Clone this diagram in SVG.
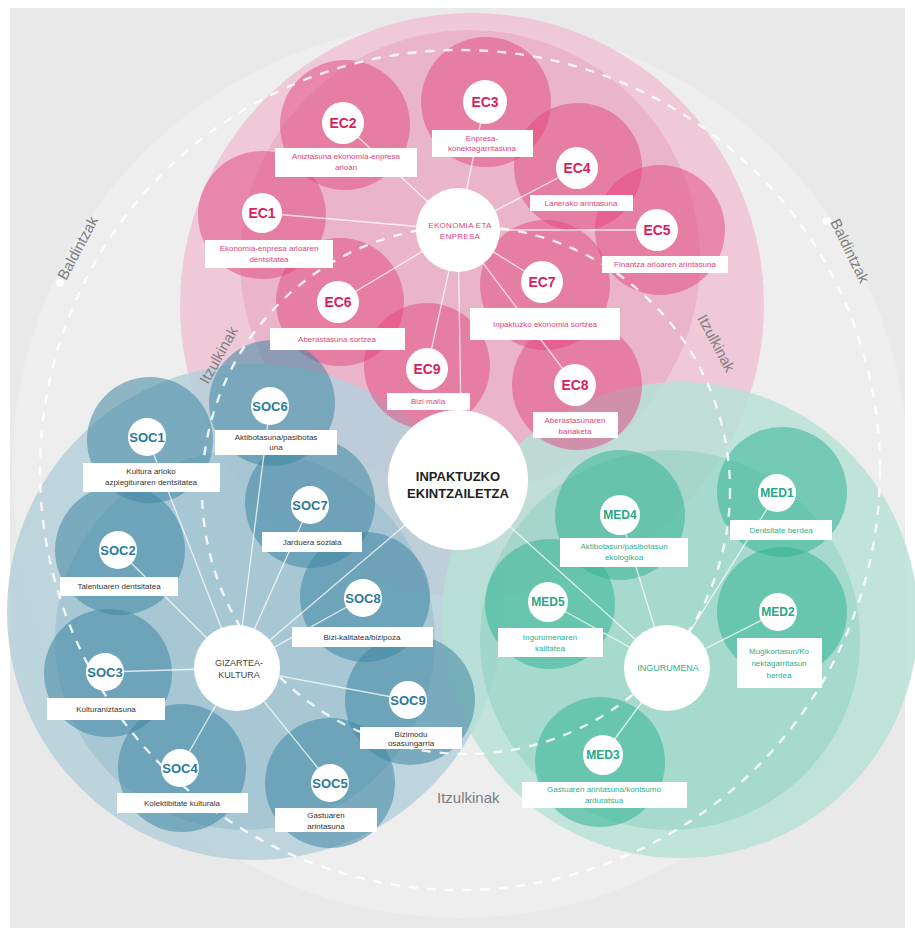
<svg xmlns="http://www.w3.org/2000/svg" width="915" height="934" viewBox="0 0 915 934">
<style>
text{font-family:"Liberation Sans",Arial,sans-serif}
.ecc{fill:#e2467e;fill-opacity:.5}
.socc{fill:#3f86a2;fill-opacity:.55}
.medc{fill:#34b496;fill-opacity:.55}
.dot{fill:#fff}
.box{fill:#fff}
.conn line{stroke:#fff;stroke-opacity:.75;stroke-width:1.3}
.dash{fill:none;stroke:#fff;stroke-width:2.4;stroke-dasharray:9 9;stroke-opacity:.85}
.ec{fill:#d91f60;font-weight:bold;font-size:14px;text-anchor:middle}
.soc{fill:#2b7b98;font-weight:bold;font-size:13px;text-anchor:middle}
.med{fill:#27a886;font-weight:bold;font-size:12px;text-anchor:middle}
.le{fill:#e0457b;font-size:8px;text-anchor:middle}
.ls{fill:#333;font-size:8px;text-anchor:middle}
.lm{fill:#2bb08d;font-size:8px;text-anchor:middle}
.side{fill:#7d7d7d;font-size:15px}
</style>
<rect x="0" y="0" width="915" height="934" fill="#fff"/>
<rect x="10" y="8" width="895" height="920" fill="#e9e9e9"/>
<g id="background">
<circle cx="460" cy="470" r="448" fill="#fff" fill-opacity=".25"/>
<circle cx="472" cy="305" r="292" fill="#efbcd0" fill-opacity=".75"/>
<circle cx="470" cy="260" r="230" fill="#e68fb0" fill-opacity=".35"/>
<circle cx="255" cy="612" r="248" fill="#b5d0da" fill-opacity=".85"/>
<circle cx="680" cy="620" r="238" fill="#b7e0d6" fill-opacity=".85"/>
<circle cx="245" cy="640" r="190" fill="#7fb0c3" fill-opacity=".35"/>
<circle cx="670" cy="640" r="190" fill="#76c9b3" fill-opacity=".35"/>
</g>
<g id="colored-circles">
<circle class="ecc" cx="262" cy="215" r="64"/>
<circle class="ecc" cx="345" cy="125" r="65"/>
<circle class="ecc" cx="486" cy="102" r="65"/>
<circle class="ecc" cx="578" cy="167" r="64"/>
<circle class="ecc" cx="660" cy="230" r="65"/>
<circle class="ecc" cx="340" cy="302" r="64"/>
<circle class="ecc" cx="545" cy="285" r="65"/>
<circle class="ecc" cx="577" cy="385" r="65"/>
<circle class="ecc" cx="427" cy="366" r="63"/>
<circle class="socc" cx="150" cy="440" r="63"/>
<circle class="socc" cx="120" cy="550" r="65"/>
<circle class="socc" cx="108" cy="673" r="64"/>
<circle class="socc" cx="182" cy="768" r="64"/>
<circle class="socc" cx="330" cy="783" r="65"/>
<circle class="socc" cx="272" cy="403" r="63"/>
<circle class="socc" cx="310" cy="503" r="65"/>
<circle class="socc" cx="365" cy="597" r="65"/>
<circle class="socc" cx="410" cy="700" r="65"/>
<circle class="medc" cx="782" cy="492" r="65"/>
<circle class="medc" cx="782" cy="612" r="65"/>
<circle class="medc" cx="600" cy="762" r="65"/>
<circle class="medc" cx="620" cy="515" r="65"/>
<circle class="medc" cx="550" cy="604" r="65"/>
</g>
<g id="dashed">
<circle class="dash" cx="460" cy="470" r="420"/>
<circle class="dash" cx="466" cy="490" r="264"/>
<circle cx="60" cy="283" r="4" fill="#fff"/>
<circle cx="827" cy="221" r="4" fill="#fff"/>
</g>
<g id="labels-side">
<text class="side" transform="translate(66,281) rotate(-62)">Baldintzak</text>
<text class="side" transform="translate(830,222) rotate(64)">Baldintzak</text>
<text class="side" transform="translate(208,385) rotate(-61)" font-size="16">Itzulkinak</text>
<text class="side" transform="translate(697,318) rotate(62)" font-size="16">Itzulkinak</text>
<text class="side" x="437" y="803" font-size="16">Itzulkinak</text>
</g>
<g class="conn" id="connectors">
<line x1="458" y1="230" x2="262" y2="213"/>
<line x1="458" y1="230" x2="343" y2="123"/>
<line x1="458" y1="230" x2="485" y2="102"/>
<line x1="458" y1="230" x2="577" y2="168"/>
<line x1="458" y1="230" x2="657" y2="230"/>
<line x1="458" y1="230" x2="338" y2="302"/>
<line x1="458" y1="230" x2="542" y2="282"/>
<line x1="458" y1="230" x2="575" y2="385"/>
<line x1="458" y1="230" x2="427" y2="369"/>
<line x1="458" y1="230" x2="462" y2="480"/>
<line x1="237" y1="668" x2="147" y2="437"/>
<line x1="237" y1="668" x2="118" y2="550"/>
<line x1="237" y1="668" x2="105" y2="672"/>
<line x1="237" y1="668" x2="180" y2="768"/>
<line x1="237" y1="668" x2="330" y2="783"/>
<line x1="237" y1="668" x2="270" y2="406"/>
<line x1="237" y1="668" x2="310" y2="505"/>
<line x1="237" y1="668" x2="363" y2="598"/>
<line x1="237" y1="668" x2="408" y2="700"/>
<line x1="237" y1="668" x2="458" y2="480"/>
<line x1="667" y1="668" x2="777" y2="493"/>
<line x1="667" y1="668" x2="778" y2="612"/>
<line x1="667" y1="668" x2="603" y2="755"/>
<line x1="667" y1="668" x2="620" y2="515"/>
<line x1="667" y1="668" x2="548" y2="602"/>
<line x1="667" y1="668" x2="458" y2="480"/>
</g>
<g id="center">
<circle class="dot" cx="458" cy="480" r="70"/>
<text x="458" y="481" font-size="13" font-weight="bold" fill="#222" text-anchor="middle">INPAKTUZKO</text>
<text x="458" y="498" font-size="13" font-weight="bold" fill="#222" text-anchor="middle">EKINTZAILETZA</text>
</g>
<g id="hub-ekonomia">
<circle class="dot" cx="458" cy="230" r="42"/>
<text x="460" y="228" font-size="8" fill="#e0457b" text-anchor="middle" letter-spacing=".3">EKONOMIA  ETA</text>
<text x="460" y="239" font-size="8" fill="#e0457b" text-anchor="middle" letter-spacing=".3">ENPRESA</text>
</g>
<g id="hub-gizartea">
<circle class="dot" cx="237" cy="668" r="43"/>
<text x="239" y="666" font-size="9" fill="#444" text-anchor="middle">GIZARTEA-</text>
<text x="239" y="678" font-size="9" fill="#444" text-anchor="middle">KULTURA</text>
</g>
<g id="hub-ingurumena">
<circle class="dot" cx="667" cy="668" r="43"/>
<text x="668" y="671" font-size="9" fill="#2bb08d" text-anchor="middle">INGURUMENA</text>
</g>
<g id="EC1"><circle class="dot" cx="262" cy="213" r="20"/><text class="ec" x="262" y="218">EC1</text>
<rect class="box" x="205" y="240" width="128" height="28"/><text class="le" x="269" y="251">Ekonomia-enpresa  arloaren</text><text class="le" x="269" y="262">dentsitatea</text></g>
<g id="EC2"><circle class="dot" cx="343" cy="123" r="21"/><text class="ec" x="343" y="128">EC2</text>
<rect class="box" x="275" y="148" width="142" height="29"/><text class="le" x="346" y="159">Aniztasuna  ekonomia-enpresa</text><text class="le" x="346" y="170">arloan</text></g>
<g id="EC3"><circle class="dot" cx="485" cy="102" r="22"/><text class="ec" x="485" y="107">EC3</text>
<rect class="box" x="432" y="130" width="101" height="27"/><text class="le" x="482" y="141">Enpresa-</text><text class="le" x="482" y="151">konektagarritasuna</text></g>
<g id="EC4"><circle class="dot" cx="577" cy="168" r="21"/><text class="ec" x="577" y="173">EC4</text>
<rect class="box" x="530" y="195" width="103" height="16"/><text class="le" x="581" y="206">Lanerako  arintasuna</text></g>
<g id="EC5"><circle class="dot" cx="657" cy="230" r="21"/><text class="ec" x="657" y="235">EC5</text>
<rect class="box" x="602" y="256" width="126" height="17"/><text class="le" x="665" y="267">Finantza  arloaren  arintasuna</text></g>
<g id="EC6"><circle class="dot" cx="338" cy="302" r="21"/><text class="ec" x="338" y="307">EC6</text>
<rect class="box" x="270" y="328" width="135" height="22"/><text class="le" x="337" y="342">Aberastasuna   sortzea</text></g>
<g id="EC7"><circle class="dot" cx="542" cy="282" r="21"/><text class="ec" x="542" y="287">EC7</text>
<rect class="box" x="470" y="308" width="150" height="32"/><text class="le" x="545" y="327">Inpaktuzko  ekonomia   sortzea</text></g>
<g id="EC8"><circle class="dot" cx="575" cy="385" r="21"/><text class="ec" x="575" y="390">EC8</text>
<rect class="box" x="533" y="412" width="85" height="26"/><text class="le" x="575" y="423">Aberastasunaren</text><text class="le" x="575" y="434">banaketa</text></g>
<g id="EC9"><circle class="dot" cx="427" cy="369" r="21"/><text class="ec" x="427" y="374">EC9</text>
<rect class="box" x="387" y="393" width="83" height="17"/><text class="le" x="428" y="404">Bizi maila</text></g>
<g id="SOC1"><circle class="dot" cx="147" cy="437" r="19"/><text class="soc" x="147" y="442">SOC1</text>
<rect class="box" x="83" y="463" width="137" height="29"/><text class="ls" x="151" y="474">Kultura  arloko</text><text class="ls" x="151" y="485">azpiegituraren   dentsitatea</text></g>
<g id="SOC2"><circle class="dot" cx="118" cy="550" r="19"/><text class="soc" x="118" y="555">SOC2</text>
<rect class="box" x="60" y="577" width="118" height="19"/><text class="ls" x="119" y="589">Talentuaren   dentsitatea</text></g>
<g id="SOC3"><circle class="dot" cx="105" cy="672" r="19"/><text class="soc" x="105" y="677">SOC3</text>
<rect class="box" x="47" y="698" width="118" height="22"/><text class="ls" x="106" y="712">Kulturaniztasuna</text></g>
<g id="SOC4"><circle class="dot" cx="180" cy="768" r="19"/><text class="soc" x="180" y="773">SOC4</text>
<rect class="box" x="117" y="793" width="131" height="20"/><text class="ls" x="182" y="806">Kolektibitate  kulturala</text></g>
<g id="SOC5"><circle class="dot" cx="330" cy="783" r="19"/><text class="soc" x="330" y="788">SOC5</text>
<rect class="box" x="275" y="808" width="102" height="24"/><text class="ls" x="326" y="818">Gastuaren</text><text class="ls" x="326" y="829">arintasuna</text></g>
<g id="SOC6"><circle class="dot" cx="270" cy="406" r="19"/><text class="soc" x="270" y="411">SOC6</text>
<rect class="box" x="215" y="430" width="122" height="25"/><text class="ls" x="276" y="440">Aktibotasuna/pasibotas</text><text class="ls" x="276" y="450">una</text></g>
<g id="SOC7"><circle class="dot" cx="310" cy="505" r="19"/><text class="soc" x="310" y="510">SOC7</text>
<rect class="box" x="262" y="532" width="100" height="20"/><text class="ls" x="312" y="545">Jarduera   soziala</text></g>
<g id="SOC8"><circle class="dot" cx="363" cy="598" r="19"/><text class="soc" x="363" y="603">SOC8</text>
<rect class="box" x="292" y="627" width="141" height="20"/><text class="ls" x="362" y="640">Bizi-kalitatea/bizipoza</text></g>
<g id="SOC9"><circle class="dot" cx="408" cy="700" r="19"/><text class="soc" x="408" y="705">SOC9</text>
<rect class="box" x="360" y="727" width="102" height="22"/><text class="ls" x="411" y="737">Bizimodu</text><text class="ls" x="411" y="746">osasungarria</text></g>
<g id="MED1"><circle class="dot" cx="777" cy="493" r="19"/><text class="med" x="777" y="497">MED1</text>
<rect class="box" x="730" y="520" width="102" height="20"/><text class="lm" x="781" y="533">Dentsitate   berdea</text></g>
<g id="MED2"><circle class="dot" cx="778" cy="612" r="19"/><text class="med" x="778" y="616">MED2</text>
<rect class="box" x="737" y="638" width="85" height="50"/><text class="lm" x="779" y="654">Mugikortasun/Ko</text><text class="lm" x="779" y="666">nektagarritasun</text><text class="lm" x="779" y="678">berdea</text></g>
<g id="MED3"><circle class="dot" cx="603" cy="755" r="20"/><text class="med" x="603" y="759">MED3</text>
<rect class="box" x="522" y="782" width="165" height="26"/><text class="lm" x="604" y="792">Gastuaren   arintasuna/kontsumo</text><text class="lm" x="604" y="803">arduratsua</text></g>
<g id="MED4"><circle class="dot" cx="620" cy="515" r="20"/><text class="med" x="620" y="519">MED4</text>
<rect class="box" x="560" y="538" width="128" height="29"/><text class="lm" x="624" y="549">Aktibotasun/pasibotasun</text><text class="lm" x="624" y="560">ekologikoa</text></g>
<g id="MED5"><circle class="dot" cx="548" cy="602" r="20"/><text class="med" x="548" y="606">MED5</text>
<rect class="box" x="498" y="628" width="105" height="29"/><text class="lm" x="550" y="640">Ingurumenaren</text><text class="lm" x="550" y="651">kalitatea</text></g>
</svg>
